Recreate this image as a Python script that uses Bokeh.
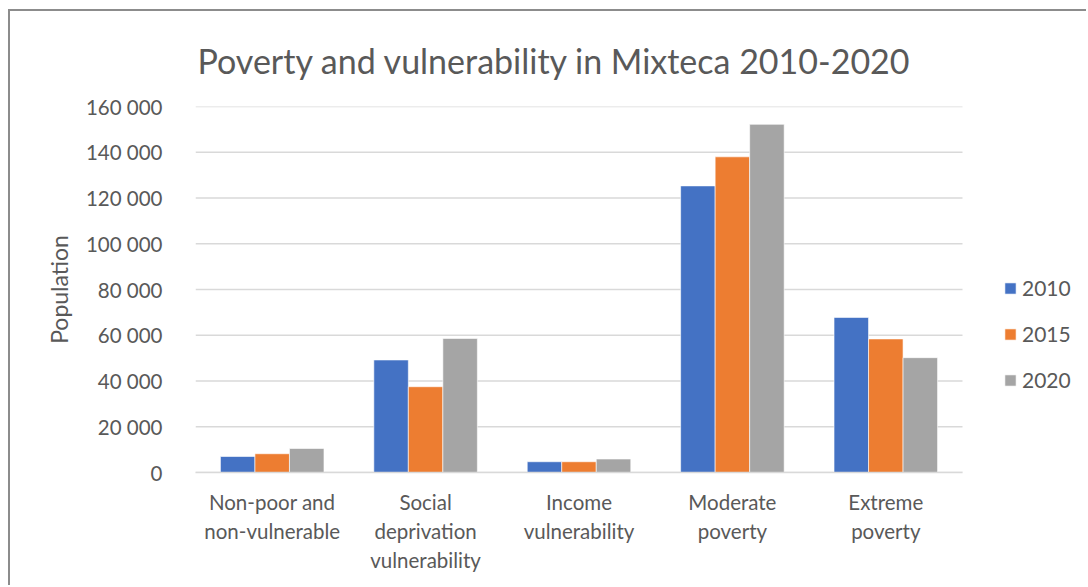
from bokeh.plotting import figure
from bokeh.models import ColumnDataSource, Range1d, Legend, LegendItem, FixedTicker
from bokeh.transform import dodge
from bokeh.embed import file_html
from bokeh.resources import INLINE

categories = ["Non-poor and\nnon-vulnerable", "Social\ndeprivation\nvulnerability",
              "Income\nvulnerability", "Moderate\npoverty", "Extreme\npoverty"]
years = ["2010", "2015", "2020"]
values_2010 = [7000, 49200, 4700, 125300, 67800]
values_2015 = [8200, 37500, 4700, 138000, 58400]
values_2020 = [10500, 58600, 5900, 152200, 50200]
y_ticks = [0, 20000, 40000, 60000, 80000, 100000, 120000, 140000, 160000]
y_tick_labels = ["0", "20 000", "40 000", "60 000", "80 000", "100 000", "120 000", "140 000", "160 000"]
colors = ["#4472C4", "#ED7D31", "#A5A5A5"]

FONT = "Lato"
TXT = "#595959"
GRID = "#d9d9d9"

n = len(categories)
xpos = [i + 0.5 for i in range(n)]
source = ColumnDataSource(data=dict(x=xpos, y2010=values_2010, y2015=values_2015, y2020=values_2020))

# frame spans the category area plus the legend area on the right
x_end = n * (1088 - 195) / (962 - 195)
p = figure(x_range=Range1d(0, x_end), y_range=Range1d(0, 160000),
           width=1078, height=576, output_backend="svg", toolbar_location=None,
           min_border_left=185, min_border_right=0, min_border_top=95, min_border_bottom=115,
           title="Poverty and vulnerability in Mixteca 2010-2020")
p.margin = (9, 0, 0, 8)
p.styles = {"border-top": "2px solid #8c8c8c", "border-left": "2px solid #8c8c8c"}

p.title.text_font = FONT
p.title.text_font_size = "34px"
p.title.text_font_style = "normal"
p.title.text_color = TXT
p.title.align = "left"
p.title.offset = 2
p.title.standoff = 52

# gridlines limited to the category area
p.segment(x0=[0] * len(y_ticks), x1=[n] * len(y_ticks), y0=y_ticks, y1=y_ticks,
          line_color=GRID, line_width=1.5)

bw = 0.225
renderers = []
for i, (yr, col) in enumerate(zip(years, colors)):
    r = p.vbar(x=dodge("x", (i - 1) * bw), top="y" + yr, width=bw,
               source=source, fill_color=col, line_color="white", line_width=0.6)
    renderers.append(r)

legend = Legend(items=[LegendItem(label=yr, renderers=[r]) for yr, r in zip(years, renderers)],
                location=(808, 80))
legend.border_line_color = None
legend.background_fill_alpha = 0
legend.padding = 0
legend.margin = 0
legend.glyph_width = 14
legend.glyph_height = 14
legend.label_height = 24
legend.spacing = 21
legend.label_standoff = 5
legend.label_text_font = FONT
legend.label_text_font_size = "21px"
legend.label_text_color = TXT
p.add_layout(legend, "center")

p.outline_line_color = None
p.xgrid.grid_line_color = None
p.ygrid.grid_line_color = None

p.yaxis.ticker = FixedTicker(ticks=y_ticks)
p.yaxis.major_label_overrides = {t: l for t, l in zip(y_ticks, y_tick_labels)}
p.yaxis.axis_line_color = None
p.yaxis.major_tick_line_color = None
p.yaxis.minor_tick_line_color = None
p.yaxis.major_label_standoff = 27
p.yaxis.major_label_text_font = FONT
p.yaxis.major_label_text_font_size = "20.5px"
p.yaxis.major_label_text_color = TXT
p.yaxis.axis_label = "Population"
p.yaxis.axis_label_text_font = FONT
p.yaxis.axis_label_text_font_size = "23px"
p.yaxis.axis_label_text_font_style = "normal"
p.yaxis.axis_label_text_color = TXT
p.yaxis.axis_label_standoff = 10

p.xaxis.ticker = FixedTicker(ticks=xpos)
p.xaxis.major_label_overrides = {x: c for x, c in zip(xpos, categories)}
p.xaxis.bounds = (0, n)
p.xaxis.axis_line_color = GRID
p.xaxis.axis_line_width = 1.5
p.xaxis.major_tick_line_color = None
p.xaxis.minor_tick_line_color = None
p.xaxis.major_label_standoff = 11
p.xaxis.major_label_text_font = FONT
p.xaxis.major_label_text_font_size = "20.5px"
p.xaxis.major_label_text_color = TXT
p.xaxis.major_label_text_line_height = 1.22

open("out.html", "w").write(file_html(p, INLINE))
